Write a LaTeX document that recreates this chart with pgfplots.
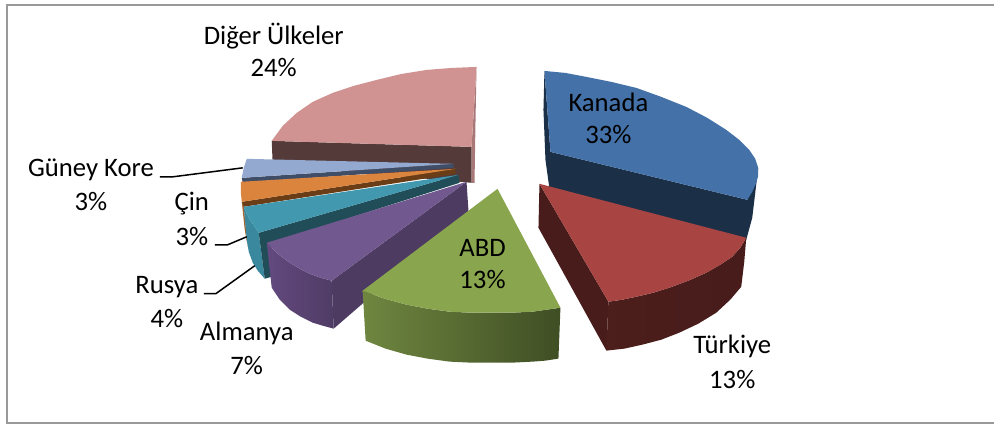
\documentclass[border=0pt]{standalone}
\usepackage{pgfplots}
\pgfplotsset{compat=1.18}
\usepackage{fontspec}
\setmainfont{Carlito}
\definecolor{kt}{HTML}{4472A8}\definecolor{kd}{HTML}{1B2F47}
\definecolor{tt}{HTML}{A84542}\definecolor{td}{HTML}{471C1A}
\definecolor{at}{HTML}{89A54E}\definecolor{al}{HTML}{6F8640}\definecolor{ad}{HTML}{3F4E24}
\definecolor{pt}{HTML}{71588F}\definecolor{pd}{HTML}{4D3B62}\definecolor{pl}{HTML}{63497F}
\definecolor{rt}{HTML}{4198AF}\definecolor{rd}{HTML}{214D59}\definecolor{rs}{HTML}{3A889D}
\definecolor{ot}{HTML}{DB843D}\definecolor{od}{HTML}{6A3D17}
\definecolor{bt}{HTML}{93A9CF}\definecolor{bd}{HTML}{3F4D66}
\definecolor{gt}{HTML}{D19392}\definecolor{gd}{HTML}{553A3A}\definecolor{gs}{HTML}{A87878}
\definecolor{frame}{HTML}{999999}
\begin{document}
\begin{tikzpicture}
\begin{axis}[scale only axis,width=995pt,height=425pt,xmin=0,xmax=995,ymin=0,ymax=425,y dir=reverse,hide axis,clip=false]
% page extent
\path (axis cs:0,0) rectangle (axis cs:995,425);
% frame
\addplot[draw=frame,line width=2pt] coordinates {(995,5)(7,5)(7,423)(995,423)};
% Diger Ulkeler
\addplot[fill=gd,draw=none] coordinates {(272,141)(472,147)(472,183)(273,165)} --cycle;
\addplot[fill=gs,draw=none] coordinates {(477,67)(472,147)(472,183)(475,183)(476,120)} --cycle;
\addplot[fill=gt,draw=none] coordinates {(477,67)(452,68)(427,70)(402,74)(377,80)(354,86)(333,93)(313,102)(297,113)(283,126)(272,141)(472,147)} --cycle;
% Guney Kore
\addplot[fill=bd,draw=none] coordinates {(242,178)(454,164)(454,168)(243,183)} --cycle;
\addplot[fill=bt,draw=none] coordinates {(454,164)(247,159)(244,168)(242,178)} --cycle;
% Cin
\addplot[fill=ot!75!black,draw=none] coordinates {(242,202)(244,207)(248,247)(245,230)} --cycle;
\addplot[fill=od,draw=none] coordinates {(242,202)(456,169)(456,174)(244,207)} --cycle;
\addplot[fill=ot,draw=none] coordinates {(456,169)(241,182)(241,192)(242,202)} --cycle;
% Rusya
\addplot[fill=rs,draw=none] coordinates {(244,207)(250,220)(259,233)(265,279)(258,271)(253,263)(249,252)(247,240)} --cycle;
\addplot[fill=rd,draw=none] coordinates {(259,233)(459,175)(460,183)(272,243)(272,277)(265,279)} --cycle;
\addplot[fill=rt,draw=none] coordinates {(459,175)(244,207)(250,220)(259,233)} --cycle;
% Almanya
\addplot[fill=pd,draw=none] coordinates {(467,182)(469,212)(334,329)(332,281)} --cycle;
\addplot[left color=pl,right color=pd!90!pl,draw=none] coordinates {(267,243)(278,254)(290,263)(300,269)(310,274)(321,278)(332,281)(334,329)(323,326)(313,323)(301,317)(290,310)(280,300)(272,288)} --cycle;
\addplot[fill=pt,draw=none] coordinates {(467,182)(332,281)(321,278)(310,274)(300,269)(290,263)(278,254)(267,243)} --cycle;
% ABD
\addplot[left color=al,right color=ad,draw=none] coordinates {(363,291)(385,299)(407,305)(428,309)(450,312)(471,313)(493,313)(513,313)(533,312)(561,308)(559,359)(546,361)(533,362)(513,363)(493,363)(471,363)(450,362)(428,359)(407,355)(386,349)(366,341)} --cycle;
\addplot[fill=at,draw=none] coordinates {(498,189)(561,308)(533,312)(513,313)(493,313)(471,313)(450,312)(428,309)(407,305)(385,299)(363,291)} --cycle;
% Kanada
\addplot[fill=kd,draw=none] coordinates {(545,71)(544,110)(546,160)(550,189)(747,240)(753,218)(759,168)(748,200)(551,152)} --cycle;
\addplot[fill=kt,draw=none] coordinates {(545,71)(566,73)(587,77)(612,82)(637,88)(662,97)(687,107)(708,118)(727,130)(740,140)(750,150)(756,159)(759,168)(759,176)(757,183)(753,192)(748,200)(551,152)} --cycle;
% Turkiye
\addplot[fill=td,draw=none] coordinates {(540,184)(609,302)(607,351)(539,228)} --cycle;
\addplot[left color=td!95!tt,right color=td,draw=none] coordinates {(609,302)(623,300)(637,297)(654,293)(670,288)(689,281)(707,273)(721,265)(733,257)(741,248)(747,238)(745,262)(742,287)(731,300)(717,313)(699,324)(680,333)(662,340)(643,345)(625,349)(607,351)} --cycle;
\addplot[fill=tt,draw=none] coordinates {(540,184)(747,238)(741,248)(733,257)(721,265)(707,273)(689,281)(670,288)(654,293)(637,297)(623,300)(609,302)} --cycle;
% leader lines
\addplot[black,line width=1.5pt] coordinates {(160,177)(173,177)(243,168)};
\addplot[black,line width=1.5pt] coordinates {(215,245)(228,245)(247,237)};
\addplot[black,line width=1.5pt] coordinates {(204,294)(216,294)(255,266)};
% labels
\tikzset{lab/.style={font=\fontsize{26.7pt}{28pt}\selectfont,text=black,inner sep=0pt,anchor=center}}
\node[lab] at (axis cs:274,36) {Diğer Ülkeler};
\node[lab] at (axis cs:274,68) {24\%};
\node[lab] at (axis cs:609,102) {Kanada};
\node[lab] at (axis cs:609,135) {33\%};
\node[lab] at (axis cs:733,347) {Türkiye};
\node[lab] at (axis cs:733,380) {13\%};
\node[lab] at (axis cs:483,248) {ABD};
\node[lab] at (axis cs:483,280) {13\%};
\node[lab] at (axis cs:247,334) {Almanya};
\node[lab] at (axis cs:247,366) {7\%};
\node[lab] at (axis cs:167,287) {Rusya};
\node[lab] at (axis cs:167,319) {4\%};
\node[lab] at (axis cs:192,204) {Çin};
\node[lab] at (axis cs:192,237) {3\%};
\node[lab] at (axis cs:91,170) {Güney Kore};
\node[lab] at (axis cs:91,202) {3\%};
\end{axis}
\end{tikzpicture}
\end{document}
